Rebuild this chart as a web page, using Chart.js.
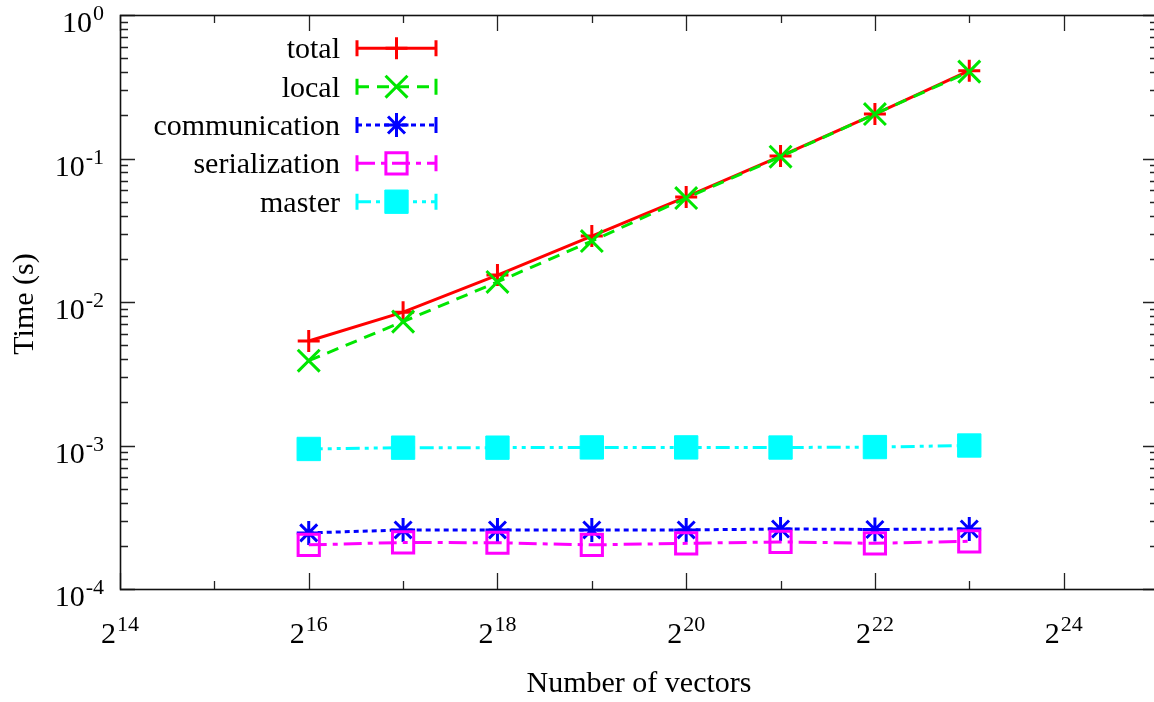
<!DOCTYPE html>
<html><head><meta charset="utf-8">
<script src="https://cdn.jsdelivr.net/npm/chart.js@4.4.1/dist/chart.umd.min.js"></script>
<style>
html,body{margin:0;padding:0;background:#fff;overflow:hidden;width:1154px;height:702px;}
#wrap{position:absolute;left:0;top:0;width:1162px;height:702px;}
</style></head><body>
<div id="wrap"><canvas id="c" width="1162" height="702"></canvas></div>
<script>
// ---- data ----
const vectors = [65536, 131072, 262144, 524288, 1048576, 2097152, 4194304, 8388608];
const seriesNames = ['total', 'local', 'communication', 'serialization', 'master'];
const total = [0.00535, 0.0085, 0.0154, 0.0288, 0.054, 0.104, 0.204, 0.409];
const local = [0.0039, 0.0073, 0.0138, 0.0266, 0.053, 0.103, 0.204, 0.403];
const communication = [0.000246, 0.000258, 0.000258, 0.000258, 0.000258, 0.000262, 0.00026, 0.000262];
const serialization = [0.000203, 0.000211, 0.00021, 0.000203, 0.000208, 0.000213, 0.000208, 0.000215];
const master = [0.000946, 0.000966, 0.000966, 0.00097, 0.00097, 0.000968, 0.000975, 0.001];
const xTickBase = '2';
const xTickExps = ['14', '16', '18', '20', '22', '24'];
const yTickBase = '10';
const yTickExps = ['0', '-1', '-2', '-3', '-4'];
const xTitle = 'Number of vectors';
const yTitle = 'Time (s)';

const FONT = "'Liberation Serif','Times New Roman',serif";
const styles = [
  {color:'#ff0000', dash:[], point:'cross', r:11, fill:'rgba(0,0,0,0)'},
  {color:'#00e600', dash:[12,8], point:'crossRot', r:15.5, fill:'rgba(0,0,0,0)'},
  {color:'#0000ff', dash:[5,4], point:'star', r:12, fill:'rgba(0,0,0,0)'},
  {color:'#ff00ff', dash:[18,6,5,6], point:'rect', r:15, fill:'rgba(0,0,0,0)'},
  {color:'#00ffff', dash:[14,5,4,5,4,5], point:'rect', r:16.5, fill:'#00ffff'}
];
const seriesData = [total, local, communication, serialization, master];

const datasets = seriesNames.map((name, i) => ({
  label: name,
  data: vectors.map((v, j) => ({x: v, y: seriesData[i][j]})),
  borderColor: styles[i].color,
  backgroundColor: styles[i].fill,
  borderWidth: 3,
  borderDash: styles[i].dash,
  pointStyle: styles[i].point,
  pointRadius: styles[i].r,
  pointHoverRadius: styles[i].r,
  pointBorderWidth: i === 4 ? 1 : 3,
  pointBorderColor: styles[i].color,
  pointBackgroundColor: styles[i].fill,
  tension: 0,
  fill: false,
  clip: false,
  order: 5 - i
}));

const gp = {
  id: 'gp',
  beforeDatasetsDraw(chart) {
    const ctx = chart.ctx, a = chart.chartArea;
    const xs = chart.scales.x, ys = chart.scales.y;
    ctx.save();
    ctx.strokeStyle = '#222';
    ctx.lineWidth = 1.3;
    ctx.beginPath();
    for (let e = 14; e <= 25; e++) {
      const x = Math.round(xs.getPixelForValue(Math.pow(2, e))) + 0.5;
      const len = e % 2 === 0 ? 16 : 8;
      ctx.moveTo(x, a.bottom); ctx.lineTo(x, a.bottom - len);
      ctx.moveTo(x, a.top); ctx.lineTo(x, a.top + len);
    }
    for (let d = -4; d <= 0; d++) {
      for (let m = 1; m <= 9; m++) {
        if (d === 0 && m > 1) break;
        const y = Math.round(ys.getPixelForValue(m * Math.pow(10, d))) + 0.5;
        const len = m === 1 ? 15 : 8;
        ctx.moveTo(a.left, y); ctx.lineTo(a.left + len, y);
        ctx.moveTo(a.right, y); ctx.lineTo(a.right - len, y);
      }
    }
    ctx.stroke();
    ctx.lineWidth = 1.6;
    ctx.strokeStyle = '#111';
    ctx.strokeRect(a.left + 0.5, a.top + 0.5, a.right - a.left, a.bottom - a.top);
    ctx.restore();
  },
  afterDraw(chart) {
    const ctx = chart.ctx, a = chart.chartArea;
    const xs = chart.scales.x, ys = chart.scales.y;
    ctx.save();
    ctx.fillStyle = '#000';
    ctx.textBaseline = 'alphabetic';
    // y tick labels
    yTickExps.forEach(ex => {
      const y = ys.getPixelForValue(Math.pow(10, Number(ex)));
      ctx.font = '22px ' + FONT;
      const sw = ctx.measureText(ex).width;
      ctx.textAlign = 'right';
      ctx.fillText(ex, 104, y + 5);
      ctx.font = '30px ' + FONT;
      ctx.fillText(yTickBase, 104 - sw - 1, y + 17);
    });
    // x tick labels
    xTickExps.forEach(ex => {
      const x = xs.getPixelForValue(Math.pow(2, Number(ex)));
      ctx.font = '30px ' + FONT;
      const bw = ctx.measureText(xTickBase).width;
      ctx.font = '22px ' + FONT;
      const sw = ctx.measureText(ex).width;
      const start = x - (bw + sw + 1) / 2;
      ctx.textAlign = 'left';
      ctx.font = '30px ' + FONT;
      ctx.fillText(xTickBase, start, a.bottom + 54);
      ctx.font = '22px ' + FONT;
      ctx.fillText(ex, start + bw + 1, a.bottom + 42);
    });
    // axis titles
    ctx.font = '30px ' + FONT;
    ctx.textAlign = 'center';
    ctx.fillText(xTitle, (a.left + a.right) / 2, 692);
    ctx.save();
    ctx.translate(33, 304);
    ctx.rotate(-Math.PI / 2);
    ctx.fillText(yTitle, 0, 0);
    ctx.restore();
    // legend
    chart.data.datasets.forEach((ds, i) => {
      const y = 48.3 + i * 38.35;
      ctx.font = '30px ' + FONT;
      ctx.textAlign = 'right';
      ctx.fillStyle = '#000';
      ctx.fillText(ds.label, 340, y + 10);
      ctx.strokeStyle = ds.borderColor;
      ctx.lineWidth = 3;
      ctx.setLineDash(ds.borderDash);
      ctx.beginPath();
      ctx.moveTo(357, y); ctx.lineTo(436, y);
      ctx.stroke();
      ctx.setLineDash([]);
      ctx.beginPath();
      ctx.moveTo(357, y - 8); ctx.lineTo(357, y + 8);
      ctx.moveTo(436, y - 8); ctx.lineTo(436, y + 8);
      ctx.stroke();
      ctx.fillStyle = ds.pointBackgroundColor;
      ctx.strokeStyle = ds.pointBorderColor;
      ctx.lineWidth = ds.pointBorderWidth;
      Chart.helpers.drawPoint(ctx, {pointStyle: ds.pointStyle, radius: ds.pointRadius, rotation: 0, borderWidth: ds.pointBorderWidth}, 396.5, y);
    });
    ctx.restore();
  }
};

new Chart(document.getElementById('c'), {
  type: 'line',
  data: {datasets},
  options: {
    responsive: false,
    animation: false,
    devicePixelRatio: 1,
    events: [],
    layout: {autoPadding: false, padding: {top: 15, right: 4, left: 0, bottom: 0}},
    plugins: {legend: {display: false}, tooltip: {enabled: false}},
    scales: {
      x: {
        type: 'logarithmic',
        min: Math.pow(2, 14), max: Math.pow(2, 25),
        grid: {display: false}, border: {display: false},
        ticks: {display: false},
        afterFit(s) { s.height = 113; }
      },
      y: {
        type: 'logarithmic',
        min: 1e-4, max: 1,
        grid: {display: false}, border: {display: false},
        ticks: {display: false},
        afterFit(s) { s.width = 120; }
      }
    }
  },
  plugins: [gp]
});
</script>
</body></html>
